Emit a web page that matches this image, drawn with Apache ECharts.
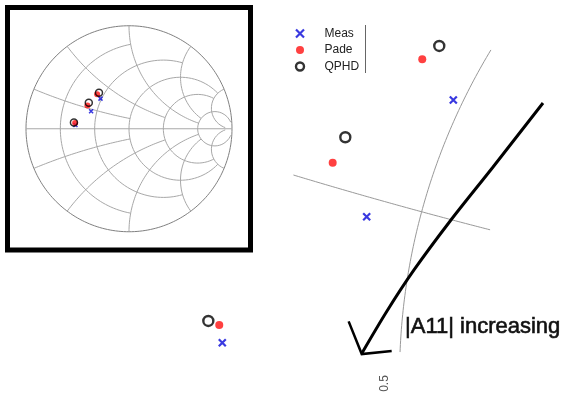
<!DOCTYPE html>
<html><head><meta charset="utf-8">
<script src="https://cdn.jsdelivr.net/npm/echarts@6/dist/echarts.min.js"></script>
<style>html,body{margin:0;padding:0;background:#fff}#c{width:562px;height:394px}</style>
</head><body><div id="c"></div>
<script>
// ---- data (reflection coefficient, Gamma = u + j v) ----
const seriesNames = ['Meas', 'Pade', 'QPHD'];
const measU = [-0.2767, -0.3679, -0.5199];
const measV = [0.2923, 0.1695, 0.0368];
const padeU = [-0.3094, -0.4037, -0.5231];
const padeV = [0.3352, 0.2263, 0.0555];
const qphdU = [-0.2915, -0.3904, -0.5346];
const qphdV = [0.3492, 0.2531, 0.0597];

// Smith chart grid values (circle values and their clip limits)
const smithR = [0.2, 0.5, 1, 2, 5];
const smithRClip = [1, 2, 5, 5, 30];
const smithX = [0.2, 0.5, 1, 2, 5];
const smithXClip = [1, 2, 5, 5, 30];

// zoomed view: visible windows and the grid arcs shown there
const mainURange = [-0.7539, -0.1623];
const mainVRange = [-0.01716, 0.39758];
const zoomR = 0.5, zoomRVSpan = [0.027, 0.345];
const zoomX = 0.2, zoomXUSpan = [-0.445, -0.238];
const resistLabel = '0.5';
const annotation = '|A11| increasing';
// annotation arrow drawn in Gamma coordinates
const arrowShaftU = [-0.1823, -0.2349, -0.2802, -0.3181, -0.3465, -0.3728];
const arrowShaftV = [0.2892, 0.2218, 0.1647, 0.1134, 0.0702, 0.0260];
const arrowHeadU = [-0.3869, -0.3731, -0.3416];
const arrowHeadV = [0.0593, 0.0249, 0.0281];

const insetRange = [-1.1796, 1.1796];
const insetVRange = [-1.1772, 1.1772];

// ---- helpers ----
function gamma(r, x) {
  const d = (r + 1) * (r + 1) + x * x;
  return [(r * r + x * x - 1) / d, (2 * x) / d];
}
function zip(a, b) { return a.map((v, i) => [v, b[i]]); }
function rCircle(r, xc) {
  const c = r / (1 + r), R = 1 / (1 + r);
  const p = gamma(r, xc);
  const th = Math.atan2(p[1], p[0] - c);
  const pts = [], N = 160;
  for (let i = 0; i <= N; i++) {
    const f = th + (2 * Math.PI - 2 * th) * i / N;
    pts.push([c + R * Math.cos(f), R * Math.sin(f)]);
  }
  return pts;
}
function xArc(x, rc, sign) {
  const cy = 1 / x, R = 1 / x;
  const p0 = gamma(0, x), p1 = gamma(rc, x);
  const a0 = Math.atan2(p0[1] - cy, p0[0] - 1);
  let a1 = Math.atan2(p1[1] - cy, p1[0] - 1);
  while (a1 < a0) a1 += 2 * Math.PI;
  const pts = [], N = 160;
  for (let i = 0; i <= N; i++) {
    const a = a0 + (a1 - a0) * i / N;
    pts.push([1 + R * Math.cos(a), sign * (cy + R * Math.sin(a))]);
  }
  return pts;
}

const X_PATH = 'path://M0,0L10,10M10,0L0,10';
const series = [];
const gridLine = (data, xi, color, width) => ({
  type: 'line', data, xAxisIndex: xi, yAxisIndex: xi, showSymbol: false, symbol: 'none',
  silent: true, lineStyle: { color, width }, z: 1, animation: false
});

// inset Smith chart grid
const outer = [];
for (let i = 0; i <= 240; i++) { const a = 2 * Math.PI * i / 240; outer.push([Math.cos(a), Math.sin(a)]); }
series.push(gridLine(outer, 1, '#808080', 1));
series.push(gridLine([[-1, 0], [1, 0]], 1, '#a8a8a8', 1));
smithR.forEach((r, i) => series.push(gridLine(rCircle(r, smithRClip[i]), 1, '#a8a8a8', 1)));
smithX.forEach((x, i) => {
  series.push(gridLine(xArc(x, smithXClip[i], 1), 1, '#a8a8a8', 1));
  series.push(gridLine(xArc(x, smithXClip[i], -1), 1, '#a8a8a8', 1));
});

// zoomed grid arcs
(function () {
  const c = zoomR / (1 + zoomR), R = 1 / (1 + zoomR);
  const pts = [];
  for (let i = 0; i <= 80; i++) {
    const v = zoomRVSpan[0] + (zoomRVSpan[1] - zoomRVSpan[0]) * i / 80;
    const f = Math.PI - Math.asin(v / R);
    pts.push([c + R * Math.cos(f), R * Math.sin(f)]);
  }
  series.push(gridLine(pts, 0, '#999999', 1));
  const cy = 1 / zoomX, Rx = 1 / zoomX, pts2 = [];
  for (let i = 0; i <= 80; i++) {
    const u = zoomXUSpan[0] + (zoomXUSpan[1] - zoomXUSpan[0]) * i / 80;
    pts2.push([u, cy - Math.sqrt(Rx * Rx - (u - 1) * (u - 1))]);
  }
  series.push(gridLine(pts2, 0, '#999999', 1));
})();

// arrow annotation
series.push({ type: 'line', data: zip(arrowShaftU, arrowShaftV), smooth: 0.3, showSymbol: false, symbol: 'none',
  silent: true, lineStyle: { color: '#000', width: 3 }, z: 3, xAxisIndex: 0, yAxisIndex: 0 });
series.push({ type: 'line', data: zip(arrowHeadU, arrowHeadV), showSymbol: false, symbol: 'none',
  silent: true, lineStyle: { color: '#000', width: 2.5, join: 'miter' }, z: 3, xAxisIndex: 0, yAxisIndex: 0 });

// markers: main (zoomed) view and inset
const styles = {
  Meas: { symbol: X_PATH, itemStyle: { color: 'none', borderColor: '#0808d8', borderWidth: 2.2 } },
  Pade: { symbol: 'circle', itemStyle: { color: '#ff1010', borderWidth: 0 } },
  QPHD: { symbol: 'circle', itemStyle: { color: 'none', borderColor: '#000', borderWidth: 2.4 } }
};
const dataFor = { Meas: zip(measU, measV), Pade: zip(padeU, padeV), QPHD: zip(qphdU, qphdV) };
const mainSize = { Meas: 7, Pade: 8, QPHD: 10 };
const insetSize = { Meas: 4, Pade: 6, QPHD: 7 };
seriesNames.forEach(n => {
  series.push({ name: n, type: 'scatter', xAxisIndex: 0, yAxisIndex: 0, data: dataFor[n],
    symbol: styles[n].symbol, symbolSize: mainSize[n], itemStyle: styles[n].itemStyle, z: 4 });
  series.push({ name: n, type: 'scatter', xAxisIndex: 1, yAxisIndex: 1, data: dataFor[n],
    symbol: styles[n].symbol, symbolSize: insetSize[n],
    itemStyle: Object.assign({}, styles[n].itemStyle, n === 'Pade' ? {} : { borderWidth: 1.5 }), z: 4 });
});

const hiddenAxis = (gi, range) => ({ type: 'value', gridIndex: gi, min: range[0], max: range[1], show: false });

const option = {
  animation: false,
  backgroundColor: '#fff',
  grid: [
    { left: 0, top: 0, width: 562, height: 394, show: false },
    { left: 7.5, top: 7.5, width: 243, height: 242.5, show: true, backgroundColor: '#fff',
      borderColor: '#000', borderWidth: 5 }
  ],
  xAxis: [hiddenAxis(0, mainURange), hiddenAxis(1, insetRange)],
  yAxis: [hiddenAxis(0, mainVRange), hiddenAxis(1, insetVRange)],
  legend: {
    orient: 'vertical', left: 293.5, top: 25.25, padding: 0, itemGap: 0,
    itemWidth: 39, itemHeight: 8, selectedMode: false,
    textStyle: { fontFamily: 'Liberation Sans, Arial, sans-serif', fontSize: 12, color: '#222', lineHeight: 16.5 },
    data: seriesNames.map(n => ({ name: n, icon: styles[n].symbol, itemStyle: styles[n].itemStyle }))
  },
  graphic: [
    { type: 'line', shape: { x1: 365.5, y1: 25, x2: 365.5, y2: 73 }, style: { stroke: '#666', lineWidth: 1 }, z: 10 },
    { type: 'text', x: 405, y: 327, z: 10,
      style: { text: annotation, fontSize: 22, fontFamily: '"Liberation Sans", Arial, sans-serif',
        fill: '#111', stroke: '#111', lineWidth: 0.6, align: 'left', verticalAlign: 'middle' } },
    { type: 'text', x: 385, y: 383.5, rotation: Math.PI / 2, z: 10,
      style: { text: resistLabel, fontSize: 12, fontFamily: 'Liberation Sans, Arial, sans-serif',
        fill: '#555', align: 'center', verticalAlign: 'middle' } }
  ],
  series
};
const chart = echarts.init(document.getElementById('c'), null, { renderer: 'canvas' });
chart.setOption(option);
</script></body></html>
